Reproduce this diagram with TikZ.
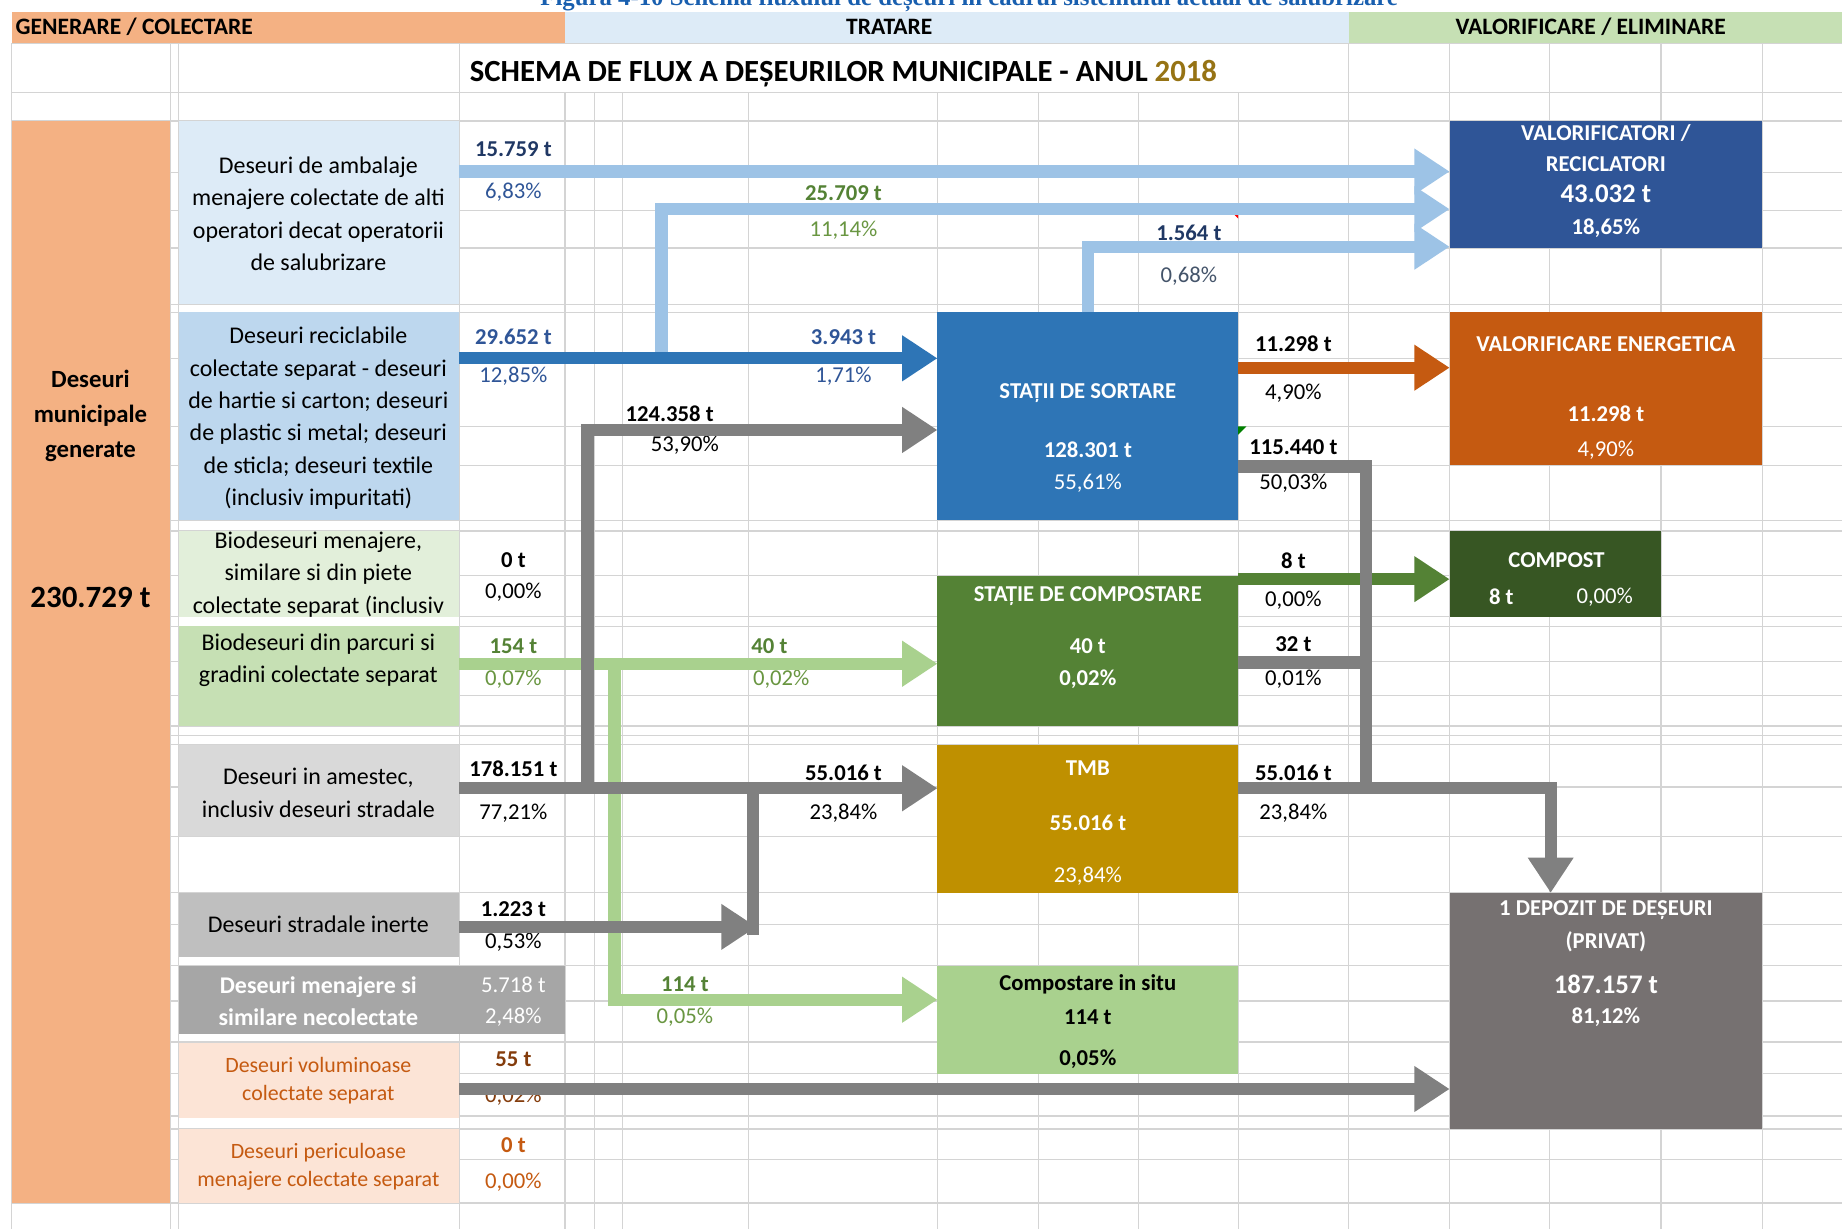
\documentclass[tikz,border=0pt]{standalone}
\usepackage{fontspec}
\setmainfont{Carlito}
\newfontfamily\capfont{Liberation Serif}
\usetikzlibrary{arrows.meta,positioning,fit}

\definecolor{hdrOrange}{HTML}{F4B183}
\definecolor{hdrBlue}{HTML}{DDEBF7}
\definecolor{hdrGreen}{HTML}{C6E0B4}
\definecolor{catBlueB}{HTML}{BDD7EE}
\definecolor{catGreenA}{HTML}{E2EFDA}
\definecolor{catGreyA}{HTML}{D9D9D9}
\definecolor{catGreyB}{HTML}{BFBFBF}
\definecolor{catGreyC}{HTML}{A6A6A6}
\definecolor{catPeach}{HTML}{FCE4D6}
\definecolor{txtOrange}{HTML}{C55A11}
\definecolor{txtBrown}{HTML}{843C0C}
\definecolor{txtNavy}{HTML}{203864}
\definecolor{txtBlue}{HTML}{2F5597}
\definecolor{txtSlate}{HTML}{44546A}
\definecolor{txtGreen}{HTML}{548235}
\definecolor{txtGreenL}{RGB}{105,150,65}
\definecolor{sortBlue}{HTML}{2E75B6}
\definecolor{compGreen}{HTML}{548235}
\definecolor{tmbGold}{HTML}{BF9000}
\definecolor{situGreen}{HTML}{A9D18E}
\definecolor{valNavy}{HTML}{2F5597}
\definecolor{energOrange}{HTML}{C55A11}
\definecolor{compostGreen}{HTML}{375623}
\definecolor{depGrey}{HTML}{767171}
\definecolor{flowBlueL}{HTML}{9DC3E6}
\definecolor{flowGrey}{HTML}{808080}
\definecolor{gridGrey}{RGB}{212,212,212}
\definecolor{yearGold}{RGB}{150,115,20}
\definecolor{capBlue}{RGB}{25,95,175}

\tikzset{cellbox/.style={inner sep=0pt,outer sep=0pt},
         gridline/.style={gridGrey,line width=0.6pt},
         cattxt/.style={align=center,inner sep=0pt,font=\fontsize{11.6}{15.7}\selectfont},
         lbl/.style={inner sep=0pt,font=\fontsize{11}{13}\selectfont},
         lblb/.style={inner sep=0pt,font=\fontsize{11}{13}\selectfont\bfseries},
         hdrtxt/.style={inner sep=0pt,font=\fontsize{11.4}{13}\selectfont\bfseries},
         boxtxt/.style={inner sep=0pt,text=white,font=\fontsize{11}{13}\selectfont\bfseries},
         flow/.style={line width=0.21cm},
         flowarrow/.style={-{Triangle[length=0.6cm,width=0.74cm]}},
            }

\begin{document}
\begin{tikzpicture}[x=0.02cm,y=-0.02cm]
    \useasboundingbox (0,0) rectangle (1568,1046);
    \fill[white] (0,0) rectangle (1568,1046);

    % spreadsheet grid
    \foreach \gx in {10,145,152,391,1148,1234,1319,1414,1500}
        \draw[gridline] (\gx,37) -- (\gx,79);
    \foreach \gx in {10,145,152,391,481,506,530,637,798,884,969,1054,1148,1234,1319,1414,1500}
        \draw[gridline] (\gx,79) -- (\gx,1046);
    \foreach \gy in {37,79,103,147,179,211,259,266,305,363,396,443,452,490,525,533,563,592,618,626,634,670,712,760,787,822,852,887,914,950,961,987,1024}
        \draw[gridline] (10,\gy) -- (1568,\gy);

    % caption, cut by the page edge
    \node[anchor=base,inner sep=0pt,text=capBlue,font=\capfont\fontsize{12}{14}\selectfont\bfseries] (caption) at (825,5)
        {Figura 4-10 Schema fluxului de deșeuri în cadrul sistemului actual de salubrizare};

    % header bar
    \node[cellbox,fill=hdrOrange,fit={(10,10) (481,37)}] (hgen) {};
    \node[cellbox,fill=hdrBlue,fit={(481,10) (1148,37)}] (htrat) {};
    \node[cellbox,fill=hdrGreen,fit={(1148,10) (1568,37)}] (hval) {};
    \node[hdrtxt,anchor=west] (tgen) at (13,23) {GENERARE / COLECTARE};
    \node[hdrtxt] (ttrat) at (757,23) {TRATARE};
    \node[hdrtxt] (tval) at (1354,23) {VALORIFICARE / ELIMINARE};
    \node[lblb,font=\fontsize{14.9}{17}\selectfont\bfseries] (title) at (718,63)
        {SCHEMA DE FLUX A DEȘEURILOR MUNICIPALE - ANUL \textcolor{yearGold}{2018}};

    % generation column
    \node[cellbox,fill=hdrOrange,fit={(10,103) (145,1024)}] (gen) {};
    \node[cattxt,font=\fontsize{12}{17}\selectfont\bfseries] (gentxt) at (77,354) {Deseuri\\municipale\\generate};
    \node[lblb,font=\fontsize{15}{17}\selectfont\bfseries] (gentot) at (77,509) {230.729 t};

    % collected fractions
    \node[cellbox,fill=hdrBlue,fit={(152,103) (391,259)}] (amb) {};
    \node[cellbox,fill=catBlueB,fit={(152,266) (391,443)}] (recic) {};
    \node[cellbox,fill=catGreenA,fit={(152,452) (391,525)}] (biomen) {};
    \node[cellbox,fill=hdrGreen,fit={(152,533) (391,618)}] (bioparc) {};
    \node[cellbox,fill=catGreyA,fit={(152,634) (391,712)}] (amestec) {};
    \node[cellbox,fill=catGreyB,fit={(152,760) (391,815)}] (inerte) {};
    \node[cellbox,fill=catGreyC,fit={(152,822) (481,880)}] (necol) {};
    \node[cellbox,fill=catPeach,fit={(152,888) (391,952)}] (volum) {};
    \node[cellbox,fill=catPeach,fit={(152,961) (391,1024)}] (pericol) {};

    \node[cattxt] (tamb) at (271,182) {Deseuri de ambalaje\\menajere colectate de alti\\operatori decat operatorii\\de salubrizare};
    \node[cattxt] (trecic) at (271,356) {Deseuri reciclabile\\colectate separat - deseuri\\de hartie si carton; deseuri\\de plastic si metal; deseuri\\de sticla; deseuri textile\\(inclusiv impuritati)};
    \begin{scope}
        \clip (152,452) rectangle (391,525);
        \node[cattxt] (tbiomen) at (271,489) {Biodeseuri menajere,\\similare si din piete\\colectate separat (inclusiv};
    \end{scope}
    \node[cattxt] (tbioparc) at (271,562) {Biodeseuri din parcuri si\\gradini colectate separat};
    \node[cattxt] (tamestec) at (271,675) {Deseuri in amestec,\\inclusiv deseuri stradale};
    \node[cattxt] (tinerte) at (271,787) {Deseuri stradale inerte};
    \node[cattxt,text=white,font=\fontsize{11.6}{15.7}\selectfont\bfseries] (tnecol) at (271,852) {Deseuri menajere si\\similare necolectate};
    \node[cattxt,text=txtOrange,font=\fontsize{10.6}{13.5}\selectfont] (tvolum) at (271,920) {Deseuri voluminoase\\colectate separat};
    \node[cattxt,text=txtOrange,font=\fontsize{10.6}{13.5}\selectfont] (tpericol) at (271,993) {Deseuri periculoase\\menajere colectate separat};

    % treatment and final boxes
    \node[cellbox,fill=sortBlue,fit={(798,266) (1054,443)}] (sortare) {};
    \node[cellbox,fill=compGreen,fit={(798,490) (1054,618)}] (compostare) {};
    \node[cellbox,fill=tmbGold,fit={(798,634) (1054,760)}] (tmb) {};
    \node[cellbox,fill=situGreen,fit={(798,822) (1054,914)}] (insitu) {};
    \node[cellbox,fill=valNavy,fit={(1234,103) (1500,211)}] (valor) {};
    \node[cellbox,fill=energOrange,fit={(1234,266) (1500,396)}] (energ) {};
    \node[cellbox,fill=compostGreen,fit={(1234,452) (1414,525)}] (compost) {};
    \node[cellbox,fill=depGrey,fit={(1234,760) (1500,961)}] (depozit) {};

    \node[boxtxt] (s1) at (926,335) {STAȚII DE SORTARE};
    \node[boxtxt] (s2) at (926,383) {128.301 t};
    \node[boxtxt,font=\fontsize{11}{13}\selectfont] (s3) at (926,411) {55,61\%};
    \node[boxtxt] (c1) at (926,507) {STAȚIE DE COMPOSTARE};
    \node[boxtxt] (c2) at (926,550) {40 t};
    \node[boxtxt] (c3) at (926,578) {0,02\%};
    \node[boxtxt] (m1) at (926,654) {TMB};
    \node[boxtxt] (m2) at (926,700) {55.016 t};
    \node[boxtxt,font=\fontsize{11}{13}\selectfont] (m3) at (926,746) {23,84\%};
    \node[boxtxt,text=black] (i1) at (926,838) {Compostare in situ};
    \node[boxtxt,text=black] (i2) at (926,866) {114 t};
    \node[boxtxt,text=black] (i3) at (926,902) {0,05\%};
    \node[boxtxt] (v1) at (1367,113) {VALORIFICATORI /};
    \node[boxtxt] (v2) at (1367,140) {RECICLATORI};
    \node[boxtxt,font=\fontsize{13}{15}\selectfont\bfseries] (v3) at (1367,165) {43.032 t};
    \node[boxtxt] (v4) at (1367,194) {18,65\%};
    \node[boxtxt] (e1) at (1367,293) {VALORIFICARE ENERGETICA};
    \node[boxtxt] (e2) at (1367,352) {11.298 t};
    \node[boxtxt,font=\fontsize{11}{13}\selectfont] (e3) at (1367,383) {4,90\%};
    \node[boxtxt] (k1) at (1325,477) {COMPOST};
    \node[boxtxt] (k2) at (1278,508) {8 t};
    \node[boxtxt,font=\fontsize{11}{13}\selectfont] (k3) at (1366,508) {0,00\%};
    \node[boxtxt] (d1) at (1367,775) {1 DEPOZIT DE DEȘEURI};
    \node[boxtxt] (d2) at (1367,802) {(PRIVAT)};
    \node[boxtxt,font=\fontsize{13}{15}\selectfont\bfseries] (d3) at (1367,838) {187.157 t};
    \node[boxtxt] (d4) at (1367,866) {81,12\%};

    % quantities next to the flows
    \node[lblb,text=txtNavy] (q1) at (437,127) {15.759 t};
    \node[lbl,text=txtBlue] (p1) at (437,164) {6,83\%};
    \node[lblb,text=txtBlue] (q2) at (437,287) {29.652 t};
    \node[lbl,text=txtBlue] (p2) at (437,320) {12,85\%};
    \node[lblb] (q3) at (437,477) {0 t};
    \node[lbl] (p3) at (437,504) {0,00\%};
    \node[lblb,text=txtGreen] (q4) at (437,550) {154 t};
    \node[lbl,text=txtGreenL] (p4) at (437,578) {0,07\%};
    \node[lblb] (q5) at (437,654) {178.151 t};
    \node[lbl] (p5) at (437,692) {77,21\%};
    \node[lblb] (q6) at (437,774) {1.223 t};
    \node[lbl] (p6) at (437,802) {0,53\%};
    \node[lbl,text=white] (q7) at (437,838) {5.718 t};
    \node[lbl,text=white] (p7) at (437,866) {2,48\%};
    \node[lblb,text=txtBrown] (q8) at (437,902) {55 t};
    \node[lbl,text=txtBrown] (p8) at (437,933) {0,02\%};
    \node[lblb,text=txtOrange] (q9) at (437,975) {0 t};
    \node[lbl,text=txtOrange] (p9) at (437,1006) {0,00\%};

    \node[lblb,text=txtGreen] (q10) at (718,164) {25.709 t};
    \node[lbl,text=txtGreenL] (p10) at (718,196) {11,14\%};
    \node[lblb,text=txtNavy] (q11) at (1012,198) {1.564 t};
    \node[lbl,text=txtSlate] (p11) at (1012,235) {0,68\%};
    \node[lblb,text=txtBlue] (q12) at (718,287) {3.943 t};
    \node[lbl,text=txtBlue] (p12) at (718,320) {1,71\%};
    \node[lblb] (q13) at (570,352) {124.358 t};
    \node[lbl] (p13) at (583,379) {53,90\%};
    \node[lblb,text=txtGreen] (q14) at (655,550) {40 t};
    \node[lbl,text=txtGreenL] (p14) at (665,578) {0,02\%};
    \node[lblb] (q15) at (718,658) {55.016 t};
    \node[lbl] (p15) at (718,692) {23,84\%};
    \node[lblb,text=txtGreen] (q16) at (583,838) {114 t};
    \node[lbl,text=txtGreenL] (p16) at (583,866) {0,05\%};

    \node[lblb] (q17) at (1101,293) {11.298 t};
    \node[lbl] (p17) at (1101,335) {4,90\%};
    \node[lblb] (q18) at (1101,381) {115.440 t};
    \node[lbl] (p18) at (1101,411) {50,03\%};
    \node[lblb] (q19) at (1101,477) {8 t};
    \node[lbl] (p19) at (1101,511) {0,00\%};
    \node[lblb] (q20) at (1101,548) {32 t};
    \node[lbl] (p20) at (1101,578) {0,01\%};
    \node[lblb] (q21) at (1101,658) {55.016 t};
    \node[lbl] (p21) at (1101,692) {23,84\%};

    % cell markers
    \fill[red] (1047,179) -- (1054,179) -- (1054,186) -- cycle;
    \fill[green!50!black] (1054,363) -- (1061,363) -- (1054,370) -- cycle;

    % flow rows and columns
    \coordinate (yA) at (0,146);
    \coordinate (yB) at (0,178);
    \coordinate (yC) at (0,210);
    \coordinate (yD) at (0,305);
    \coordinate (yK) at (0,313);
    \coordinate (yE) at (0,366);
    \coordinate (yL) at (0,397);
    \coordinate (yM) at (0,493);
    \coordinate (yN) at (0,564);
    \coordinate (yF) at (0,565);
    \coordinate (yG) at (0,671);
    \coordinate (yH) at (0,789);
    \coordinate (yH2) at (0,796);
    \coordinate (yI) at (0,851);
    \coordinate (yJ) at (0,927);
    \coordinate (xB) at (563,0);
    \coordinate (xE) at (500,0);
    \coordinate (xI) at (523,0);
    \coordinate (xH) at (641,0);
    \coordinate (xHt) at (644,0);
    \coordinate (xR) at (1163,0);
    \coordinate (xD) at (1320,0);

    % flows
    \draw[flow,flowBlueL,flowarrow] (amb.east |- yA) -- (valor.west |- yA);
    \draw[flow,flowBlueL,flowarrow] (xB |- yD) -- (xB |- yB) -- (valor.west |- yB);
    \draw[flow,flowBlueL,flowarrow] (sortare.north) -- (sortare.north |- yC) -- (valor.west |- yC);
    \draw[flow,sortBlue,flowarrow] (recic.east |- yD) -- (sortare.west |- yD);
    \draw[flow,situGreen,flowarrow] (bioparc.east |- yF) -- (compostare.west |- yF);
    \draw[flow,situGreen,flowarrow] (xI |- yF) -- (xI |- yI) -- (insitu.west |- yI);
    \draw[flow,compGreen,flowarrow] (compostare.east |- yM) -- (compost.west |- yM);
    \draw[flow,energOrange,flowarrow] (sortare.east |- yK) -- (energ.west |- yK);
    \draw[flow,flowGrey,flowarrow] (amestec.east |- yG) -- (tmb.west |- yG);
    \draw[flow,flowGrey,flowarrow] (xE |- yG) -- (xE |- yE) -- (sortare.west |- yE);
    \draw[flow,flowGrey] (xH |- yG) -- (xH |- yH2);
    \draw[flow,flowGrey,flowarrow] (inerte.east |- yH) -- (xHt |- yH);
    \draw[flow,flowGrey,flowarrow] (volum.east |- yJ) -- (depozit.west |- yJ);
    \draw[flow,flowGrey] (sortare.east |- yL) -| (xR |- yG);
    \draw[flow,flowGrey] (compostare.east |- yN) -- (xR |- yN);
    \draw[flow,flowGrey,flowarrow] (tmb.east |- yG) -| (xD |- depozit.north);
  \end{tikzpicture}
\end{document}
